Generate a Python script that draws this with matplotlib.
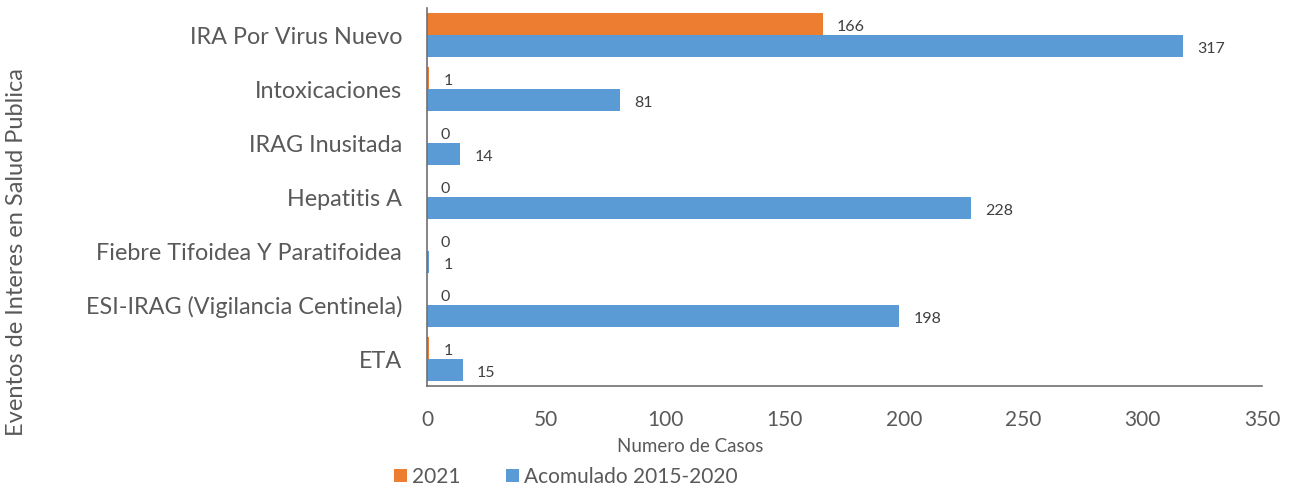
import matplotlib
matplotlib.use("Agg")
import matplotlib.pyplot as plt
import numpy as np

categories = ["IRA Por Virus Nuevo", "Intoxicaciones", "IRAG Inusitada", "Hepatitis A",
              "Fiebre Tifoidea Y Paratifoidea", "ESI-IRAG (Vigilancia Centinela)", "ETA"]
vals_2021 = [166, 1, 0, 0, 0, 0, 1]
vals_acum = [317, 81, 14, 228, 1, 198, 15]
xticks = [0, 50, 100, 150, 200, 250, 300, 350]

FONT = "Lato"
GREY = "#595959"
ORANGE = "#ED7D31"
BLUE = "#5B9BD5"

plt.rcParams["font.family"] = [FONT, "DejaVu Sans"]

fig = plt.figure(figsize=(12.92, 4.9), dpi=100)
ax = fig.add_axes([427/1292, 1 - 386/490, (1262-427)/1292, (386-8)/490])

n = len(categories)
y = np.arange(n)
h = 0.41
b1 = ax.barh(y - h/2, vals_2021, height=h, color=ORANGE, label="2021")
b2 = ax.barh(y + h/2, vals_acum, height=h, color=BLUE, label="Acomulado 2015-2020")

for bars in (b1, b2):
    for r in bars:
        w = r.get_width()
        ax.annotate(f"{int(w)}", (w, r.get_y() + r.get_height()/2),
                    xytext=(10, -2), textcoords="offset points",
                    ha="left", va="center", fontsize=11.5, color="#404040")

ax.set_xlim(0, 350)
ax.set_ylim(n - 0.5, -0.5)
ax.set_yticks(y)
ax.set_yticklabels(categories, fontsize=16.8, color=GREY)
ax.set_xticks(xticks)
ax.set_xticklabels([str(t) for t in xticks], fontsize=15, color=GREY)
ax.tick_params(axis="both", length=0)
ax.tick_params(axis="y", pad=18)
ax.tick_params(axis="x", pad=17)
for s in ("top", "right"):
    ax.spines[s].set_visible(False)
for s in ("left", "bottom"):
    ax.spines[s].set_color("#707070")
    ax.spines[s].set_linewidth(1.2)

fig.text(690/1292, 1 - 446/490, "Numero de Casos", fontsize=13.5, color=GREY,
         ha="center", va="center")
fig.text(17/1292, 1 - 252/490, "Eventos de Interes en Salud Publica", rotation=90,
         fontsize=17, color=GREY, ha="center", va="center")

leg = fig.legend(handles=[b1, b2], loc="center", bbox_to_anchor=(566/1292, 1 - 477/490),
                 ncol=2, frameon=False, fontsize=15, handlelength=0.6, handleheight=0.6,
                 columnspacing=2.2, handletextpad=0.25)
for t in leg.get_texts():
    t.set_color(GREY)

fig.savefig("out.png", dpi=100)
